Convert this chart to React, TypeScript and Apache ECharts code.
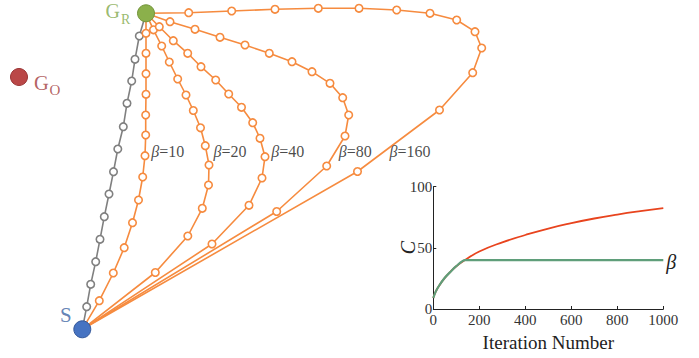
import React, { useEffect, useRef } from "react";
import * as echarts from "echarts";

// ---- Diagram (pixel-like coordinate space, y grows downward) ----
const START = [82.3, 329.3];
const GOAL_R = [146, 13.3];
const GOAL_O = [19, 77];

const greyPath = [
  [86.7, 306.7], [90.7, 284.3], [95.7, 261.7], [100, 239.3], [104.3, 216.7], [109, 194],
  [113.5, 171.7], [117.8, 149], [123.3, 126.7], [127, 103.3], [131.7, 81], [135, 59.3], [139.3, 36],
];
const beta10Path = [
  [99.3, 300.7], [113.3, 273], [124.2, 247.7], [132.5, 222.7], [138.5, 200], [142.7, 177],
  [145, 155.7], [145.7, 135], [145.7, 115], [146, 94.3], [146, 73.7], [146, 53.3], [146, 33.3],
];
const beta20Path = [
  [155.3, 272.5], [187.8, 236], [202.3, 208.3], [208.5, 185], [209, 165], [205.3, 145.7],
  [200.5, 127.8], [193.3, 110.5], [186, 95], [177.7, 79], [169.3, 62], [161.7, 46], [153.5, 29.8],
];
const beta40Path = [
  [212, 244], [249, 205.3], [262, 178], [265, 156.7], [260, 138.3], [252.7, 122.7],
  [241.5, 107.3], [228.7, 94], [215.7, 80], [201, 66.7], [187.7, 53.3], [173.3, 40.7], [159.3, 26.7],
];
const beta80Path = [
  [276.7, 211.5], [326.7, 166], [345, 136], [348.7, 115], [342.7, 97.7], [330, 83.3],
  [312, 71.7], [292, 61.7], [269.3, 53.3], [245, 45], [220, 37.3], [195, 29.3], [170, 21.7],
];
const beta160Path = [
  [357.5, 171.5], [439.5, 110], [472.7, 72.7], [481.7, 48], [475, 31.7], [456.7, 20],
  [430, 13.3], [396.7, 10], [359, 8.3], [318.3, 8.3], [275, 9.3], [231.7, 11], [188.7, 12.7],
];

const betaValues = ["10", "20", "40", "80", "160"];
const betaLabelAt = [[151.7, 152], [214, 152], [271.7, 152], [339.3, 152], [390, 152]];

// ---- Inset: C vs iteration number ----
const iterTicks = [0, 200, 400, 600, 800, 1000];
const cTicks = [0, 50, 100];
const redIter = [0, 10, 25, 50, 75, 100, 138, 200, 300, 400, 500, 600, 700, 800, 900, 1000];
const redC = [9, 14, 19, 25.5, 30.5, 35, 40, 47, 54.5, 60.5, 65.8, 70.2, 74, 77.2, 80, 82.5];
const greenIter = [0, 10, 25, 50, 75, 100, 138, 200, 400, 600, 800, 1000];
const greenC = [9, 14, 19, 25.5, 30.5, 35, 40, 40, 40, 40, 40, 40];

const ORANGE = "#F68B3F";
const GREY = "#808080";
const SERIF = "'Liberation Serif', 'Times New Roman', serif";

function pathSeries(name: string, pts: number[][], color: string) {
  return {
    name,
    type: "line",
    xAxisIndex: 0,
    yAxisIndex: 0,
    data: [START, ...pts, GOAL_R],
    symbol: "circle",
    symbolSize: 7.5,
    showSymbol: true,
    lineStyle: { color, width: 1.6 },
    itemStyle: { color: "#ffffff", borderColor: color, borderWidth: 1.6 },
    silent: true,
    z: 2,
  };
}

function textItem(pos: number[], text: string, fontSize: number, color: string, rich?: any) {
  return {
    value: pos,
    label: {
      show: true,
      position: [0, 0],
      align: "left",
      verticalAlign: "middle",
      formatter: text,
      fontFamily: SERIF,
      fontSize,
      color,
      rich,
    },
  };
}

export default function App() {
  const ref = useRef<HTMLDivElement>(null);
  useEffect(() => {
    if (!ref.current) return;
    const chart = echarts.init(ref.current, undefined, { renderer: "svg" });

    const betaRich = {
      i: { fontFamily: SERIF, fontSize: 16, fontStyle: "italic", color: "#1a1a1a" },
      r: { fontFamily: SERIF, fontSize: 16, color: "#1a1a1a" },
    };

    const annotations = [
      ...betaValues.map((v, k) => textItem(betaLabelAt[k], `{i|β}{r|=${v}}`, 16, "#1a1a1a", betaRich)),
      textItem([106, 11.2], "G", 20, "#7FA84A"),
      textItem([121.5, 19.8], "R", 14, "#7FA84A"),
      textItem([34.5, 83], "G", 20.5, "#A23B3B"),
      textItem([50, 90], "O", 15, "#A23B3B"),
      textItem([60.5, 315], "S", 21, "#3D64A3"),
    ];

    chart.setOption({
      animation: false,
      backgroundColor: "#ffffff",
      grid: [
        { left: 0, top: 0, width: 699, height: 358 },
        { left: 433.3, top: 186.7, width: 230, height: 122.3 },
      ],
      graphic: [
        {
          type: "text",
          x: 407.5,
          y: 247.5,
          rotation: Math.PI / 2,
          silent: true,
          style: {
            text: "C",
            fontFamily: SERIF,
            fontSize: 20,
            fontStyle: "italic",
            fill: "#222",
            align: "center",
            verticalAlign: "middle",
          },
        },
      ],
      xAxis: [
        { type: "value", gridIndex: 0, min: 0, max: 699, show: false },
        {
          type: "value",
          gridIndex: 1,
          min: iterTicks[0],
          max: iterTicks[iterTicks.length - 1],
          interval: 200,
          axisLine: { show: true, lineStyle: { color: "#222", width: 1 } },
          axisTick: { show: true, inside: true, length: 3, lineStyle: { color: "#222" } },
          splitLine: { show: false },
          axisLabel: {
            fontFamily: SERIF,
            fontSize: 15,
            color: "#333",
            margin: 3,
            formatter: (v: number) => String(v),
          },
          name: "Iteration Number",
          nameLocation: "middle",
          nameGap: 24,
          nameTextStyle: { fontFamily: SERIF, fontSize: 19, color: "#222" },
        },
      ],
      yAxis: [
        { type: "value", gridIndex: 0, min: 0, max: 358, inverse: true, show: false },
        {
          type: "value",
          gridIndex: 1,
          min: cTicks[0],
          max: cTicks[cTicks.length - 1],
          interval: 50,
          axisLine: { show: true, lineStyle: { color: "#222", width: 1 } },
          axisTick: { show: true, inside: true, length: 3, lineStyle: { color: "#222" } },
          splitLine: { show: false },
          axisLabel: {
            fontFamily: SERIF,
            fontSize: 15,
            color: "#333",
            margin: 1,
            formatter: (v: number) => String(v),
          },
        },
      ],
      series: [
        pathSeries("grey", greyPath, GREY),
        pathSeries("β=10", beta10Path, ORANGE),
        pathSeries("β=20", beta20Path, ORANGE),
        pathSeries("β=40", beta40Path, ORANGE),
        pathSeries("β=80", beta80Path, ORANGE),
        pathSeries("β=160", beta160Path, ORANGE),
        {
          name: "points",
          type: "scatter",
          xAxisIndex: 0,
          yAxisIndex: 0,
          symbolSize: 17,
          silent: true,
          z: 5,
          data: [
            { value: GOAL_R, itemStyle: { color: "#8BB04B", borderColor: "#73953B", borderWidth: 1, opacity: 1 } },
            { value: GOAL_O, itemStyle: { color: "#BA4747", borderColor: "#9B3636", borderWidth: 1, opacity: 1 } },
            { value: START, itemStyle: { color: "#4673C2", borderColor: "#33579A", borderWidth: 1, opacity: 1 } },
          ],
        },
        {
          name: "labels",
          type: "scatter",
          xAxisIndex: 0,
          yAxisIndex: 0,
          symbolSize: 1,
          itemStyle: { color: "rgba(0,0,0,0)" },
          silent: true,
          z: 6,
          data: annotations,
        },
        {
          name: "C",
          type: "line",
          xAxisIndex: 1,
          yAxisIndex: 1,
          data: redIter.map((x, k) => [x, redC[k]]),
          smooth: true,
          showSymbol: false,
          lineStyle: { color: "#E8441E", width: 1.8 },
          silent: true,
          z: 3,
        },
        {
          name: "β",
          type: "line",
          xAxisIndex: 1,
          yAxisIndex: 1,
          data: greenIter.map((x, k) => [x, greenC[k]]),
          smooth: 0.3,
          showSymbol: false,
          lineStyle: { color: "#5F9E7A", width: 2.2 },
          silent: true,
          z: 4,
          endLabel: {
            show: true,
            formatter: "β",
            distance: 3,
            offset: [0, 2],
            fontFamily: SERIF,
            fontSize: 20,
            fontStyle: "italic",
            color: "#222",
          },
        },
      ],
    });
    return () => chart.dispose();
  }, []);

  return (
    <div
      ref={ref}
      style={{ position: "absolute", left: 0, top: 0, width: 699, height: 358, background: "#fff" }}
    />
  );
}
